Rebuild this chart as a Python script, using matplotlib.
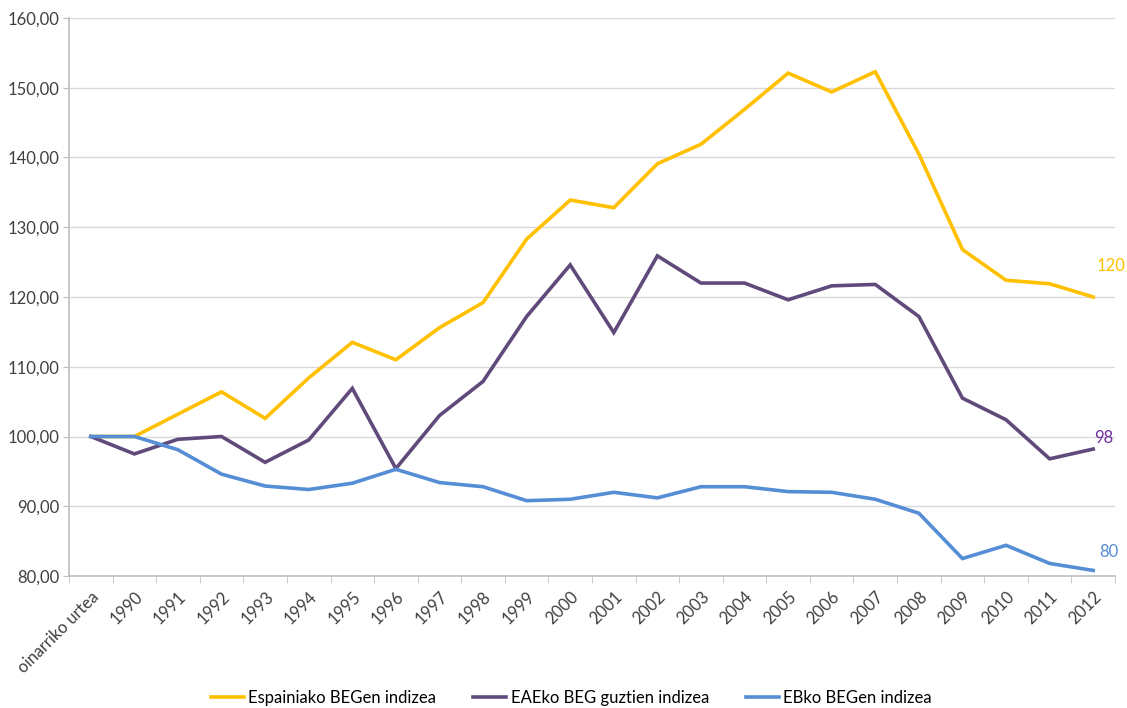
import numpy as np
import matplotlib
matplotlib.use("Agg")
import matplotlib.pyplot as plt

plt.rcParams['font.family'] = ['Lato', 'DejaVu Sans']

urteak = ["oinarriko urtea"] + [str(u) for u in range(1990, 2013)]

espainia = [100.0, 100.0, 103.2, 106.4, 102.6, 108.4, 113.5, 111.0, 115.6, 119.2,
            128.3, 133.9, 132.8, 139.1, 141.9, 146.9, 152.1, 149.4, 152.3, 140.5,
            126.8, 122.4, 121.9, 120.0]
eae = [100.0, 97.5, 99.6, 100.0, 96.3, 99.5, 106.9, 95.4, 103.0, 107.9,
       117.2, 124.6, 114.9, 125.9, 122.0, 122.0, 119.6, 121.6, 121.8, 117.2,
       105.5, 102.4, 96.8, 98.2]
eb = [100.0, 100.0, 98.1, 94.6, 92.9, 92.4, 93.3, 95.3, 93.4, 92.8,
      90.8, 91.0, 92.0, 91.2, 92.8, 92.8, 92.1, 92.0, 91.0, 89.0,
      82.5, 84.4, 81.8, 80.8]

izenak = ["Espainiako BEGen indizea", "EAEko BEG guztien indizea", "EBko BEGen indizea"]
koloreak = ["#FFC000", "#604A7B", "#558ED5"]
amaiera_etiketak = ["120", "98", "80"]
etiketa_koloreak = ["#FFC000", "#7030A0", "#558ED5"]

fig = plt.figure(figsize=(11.27, 7.08), dpi=100)
ax = fig.add_axes([69/1127, 1-576/708, (1115-69)/1127, (576-18)/708])

x = np.arange(len(urteak))
for datuak, izena, kol in zip([espainia, eae, eb], izenak, koloreak):
    ax.plot(x, datuak, color=kol, lw=2.6, label=izena, solid_joinstyle='miter')

# amaierako balioak
ax.text(x[-1] + 0.4, espainia[-1] + 4.5, amaiera_etiketak[0], color=etiketa_koloreak[0],
        fontsize=12, ha='center', va='center')
ax.text(x[-1] + 0.25, eae[-1] + 1.6, amaiera_etiketak[1], color=etiketa_koloreak[1],
        fontsize=12, ha='center', va='center')
ax.text(x[-1] + 0.35, eb[-1] + 2.7, amaiera_etiketak[2], color=etiketa_koloreak[2],
        fontsize=12, ha='center', va='center')

ax.set_xlim(-0.5, len(urteak) - 0.5)
ax.set_ylim(80, 160)
ax.set_yticks(np.arange(80, 161, 10))
ax.set_yticklabels([f"{v:.2f}".replace(".", ",") for v in np.arange(80, 161, 10)],
                   fontsize=12, color="#404040")
ax.set_xticks(x)
ax.set_xticklabels(urteak, rotation=45, ha='right', rotation_mode='anchor',
                   fontsize=12, color="#404040")
ax.tick_params(axis='x', which='major', length=0, pad=9)
ax.set_xticks(np.arange(-0.5, len(urteak), 1), minor=True)
ax.tick_params(axis='x', which='minor', length=5, color="#BFBFBF")
ax.tick_params(axis='y', length=4, color="#BFBFBF", pad=3)

ax.grid(axis='y', color="#D9D9D9", lw=1)
ax.set_axisbelow(True)
for s in ['top', 'right']:
    ax.spines[s].set_visible(False)
for s in ['left', 'bottom']:
    ax.spines[s].set_color("#BFBFBF")
    ax.spines[s].set_linewidth(1.2)

fig.legend(loc='center', bbox_to_anchor=(0.507, 1-698/708), ncol=3, frameon=False,
           fontsize=12, handlelength=2.0, handletextpad=0.25, columnspacing=2.2,
           borderpad=0)

fig.savefig("out.png", dpi=100)
